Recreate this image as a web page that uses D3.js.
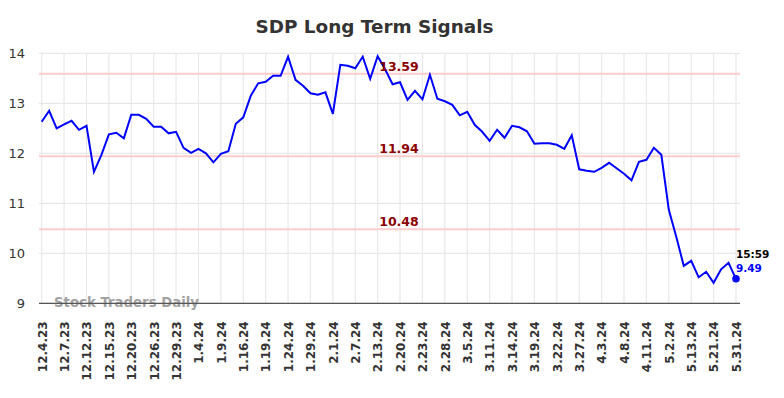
<!DOCTYPE html>
<html>
<head>
<meta charset="utf-8">
<script src="https://cdn.jsdelivr.net/npm/d3@7"></script>
<style>
  body { margin: 0; background: #fff; }
  svg { display: block; font-family: "DejaVu Sans", sans-serif; }
</style>
</head>
<body>
<svg id="chart" width="784" height="398"></svg>
<script>
// closing values, one per trading sample
const values = [
    12.63, 12.85, 12.50, 12.58, 12.65, 12.47, 12.55, 11.63, 11.97, 12.38,
    12.41, 12.30, 12.77, 12.77, 12.69, 12.53, 12.53, 12.40, 12.43, 12.11,
    12.01, 12.09, 12.00, 11.82, 11.99, 12.04, 12.59, 12.72, 13.15, 13.40,
    13.43, 13.55, 13.55, 13.93, 13.47, 13.35, 13.20, 13.17, 13.22, 12.79,
    13.77, 13.75, 13.70, 13.93, 13.49, 13.94, 13.68, 13.38, 13.42, 13.07,
    13.25, 13.08, 13.57, 13.09, 13.04, 12.97, 12.76, 12.83, 12.57, 12.43,
    12.25, 12.47, 12.31, 12.55, 12.52, 12.44, 12.19, 12.20, 12.20, 12.17,
    12.09, 12.36, 11.68, 11.65, 11.63, 11.71, 11.81, 11.70, 11.59, 11.46,
    11.83, 11.87, 12.11, 11.97, 10.87, 10.33, 9.75, 9.85, 9.52, 9.63,
    9.41, 9.68, 9.81, 9.49
];

// one date label every 3 samples
const tickLabels = [
    `12.4.23`, `12.7.23`, `12.12.23`, `12.15.23`, `12.20.23`, `12.26.23`, `12.29.23`,
    `1.4.24`, `1.9.24`, `1.16.24`, `1.19.24`, `1.24.24`, `1.29.24`, `2.1.24`,
    `2.7.24`, `2.13.24`, `2.20.24`, `2.23.24`, `2.28.24`, `3.5.24`, `3.11.24`,
    `3.14.24`, `3.19.24`, `3.22.24`, `3.27.24`, `4.3.24`, `4.8.24`, `4.11.24`,
    `5.2.24`, `5.13.24`, `5.21.24`, `5.31.24`
];
const tickStep = 3;

const yTicks = [9, 10, 11, 12, 13, 14];
const levels = [13.59, 11.94, 10.48];
const lastTime = `15:59`;

const plotLeft = 39;
const plotRight = 740;
const plotTop = 53.3;
const plotBottom = 303.3;

const x = d3.scaleLinear()
    .domain([0, values.length - 1])
    .range([41.7, 736]);

const y = d3.scaleLinear()
    .domain([9, 14])
    .range([plotBottom, plotTop]);

const tickIdx = tickLabels.map((d, i) => i * tickStep);

const chart = d3.select(`#chart`);

chart.append(`text`)
    .attr(`x`, 374.5)
    .attr(`y`, 32.5)
    .attr(`text-anchor`, `middle`)
    .attr(`font-size`, `18.4px`)
    .attr(`font-weight`, `bold`)
    .attr(`fill`, `#333`)
    .text(`SDP Long Term Signals`);

// grid
const grid = chart.append(`g`).attr(`stroke`, `#e8e8e8`).attr(`stroke-width`, 1.2);
grid.selectAll(`line.v`)
    .data(tickIdx)
    .enter().append(`line`)
        .attr(`class`, `v`)
        .attr(`x1`, d => x(d)).attr(`x2`, d => x(d))
        .attr(`y1`, plotTop).attr(`y2`, plotBottom);
grid.selectAll(`line.h`)
    .data(yTicks)
    .enter().append(`line`)
        .attr(`class`, `h`)
        .attr(`x1`, plotLeft).attr(`x2`, plotRight)
        .attr(`y1`, d => y(d)).attr(`y2`, d => y(d));

// signal levels
chart.append(`g`).selectAll(`line`)
    .data(levels)
    .enter().append(`line`)
        .attr(`x1`, plotLeft).attr(`x2`, plotRight)
        .attr(`y1`, d => y(d)).attr(`y2`, d => y(d))
        .attr(`stroke`, `#ffcccc`)
        .attr(`stroke-width`, 2);

// watermark
chart.append(`text`)
    .attr(`x`, 54)
    .attr(`y`, 307)
    .attr(`font-size`, `13.3px`)
    .attr(`font-weight`, `bold`)
    .attr(`fill`, `#999`)
    .attr(`opacity`, 0.9)
    .text(`Stock Traders Daily`);

// axes
const yAxis = d3.axisLeft(y)
    .tickValues(yTicks)
    .tickSize(0)
    .tickPadding(0)
    .tickFormat(d3.format(`d`));
chart.append(`g`)
    .attr(`transform`, `translate(25, 0)`)
    .call(yAxis)
    .call(g => g.select(`.domain`).remove())
    .selectAll(`text`)
        .attr(`font-size`, `13px`)
        .attr(`font-family`, `"DejaVu Sans", sans-serif`)
        .attr(`fill`, `#333`);

const xAxis = d3.axisBottom(x)
    .tickValues(tickIdx)
    .tickSize(0)
    .tickFormat((d, i) => tickLabels[i]);
chart.append(`g`)
    .attr(`transform`, `translate(0, ${plotBottom})`)
    .call(xAxis)
    .call(g => g.select(`.domain`).remove())
    .selectAll(`text`)
        .attr(`font-size`, `12px`)
        .attr(`font-weight`, `bold`)
        .attr(`font-family`, `"DejaVu Sans", sans-serif`)
        .attr(`fill`, `#333`)
        .attr(`text-anchor`, `end`)
        .attr(`transform`, `rotate(-90)`)
        .attr(`x`, -18)
        .attr(`y`, 0)
        .attr(`dy`, `0.36em`);

chart.append(`line`)
    .attr(`x1`, plotLeft).attr(`x2`, plotRight)
    .attr(`y1`, plotBottom).attr(`y2`, plotBottom)
    .attr(`stroke`, `#555`)
    .attr(`stroke-width`, 1.2);

// price line
const line = d3.line()
    .x((d, i) => x(i))
    .y(d => y(d));
chart.append(`path`)
    .datum(values)
    .attr(`d`, line)
    .attr(`fill`, `none`)
    .attr(`stroke`, `#0000ff`)
    .attr(`stroke-width`, 2);

chart.append(`g`).selectAll(`text`)
    .data(levels)
    .enter().append(`text`)
        .attr(`x`, 399)
        .attr(`y`, d => y(d) - 3)
        .attr(`text-anchor`, `middle`)
        .attr(`font-size`, `12.5px`)
        .attr(`font-weight`, `bold`)
        .attr(`fill`, `#8b0000`)
        .text(d => d3.format(`.2f`)(d));

const lastI = values.length - 1;
const lastV = values[lastI];
chart.append(`circle`)
    .attr(`cx`, x(lastI))
    .attr(`cy`, y(lastV))
    .attr(`r`, 3.8)
    .attr(`fill`, `#0000ff`);

chart.append(`text`)
    .attr(`x`, x(lastI))
    .attr(`y`, y(lastV) - 21)
    .attr(`font-size`, `10.5px`)
    .attr(`font-weight`, `bold`)
    .attr(`fill`, `#000`)
    .text(lastTime);
chart.append(`text`)
    .attr(`x`, x(lastI))
    .attr(`y`, y(lastV) - 7)
    .attr(`font-size`, `10.5px`)
    .attr(`font-weight`, `bold`)
    .attr(`fill`, `#0000ff`)
    .text(d3.format(`.2f`)(lastV));
</script>
</body>
</html>
